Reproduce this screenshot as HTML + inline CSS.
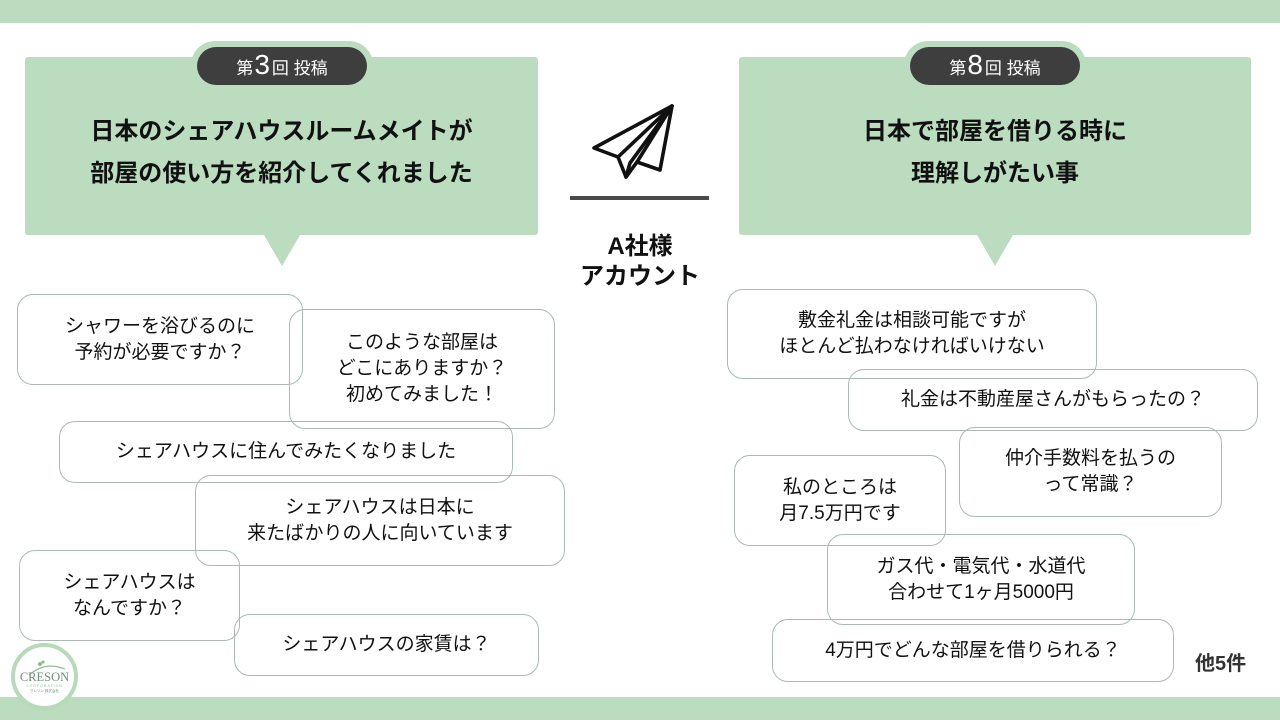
<!DOCTYPE html>
<html><head><meta charset="utf-8">
<style>
*{margin:0;padding:0;box-sizing:border-box}
body{width:1280px;height:720px;position:relative;background:#fff;overflow:hidden;font-family:"Liberation Sans","Noto Sans CJK JP",sans-serif;color:#111}
.band{position:absolute;left:0;width:1280px;background:#bbdcbf}
.gbox{position:absolute;background:#bbdcbf;border-radius:3px}
.tab{position:absolute;background:#bbdcbf;border-radius:24px 24px 0 0}
.pill{position:absolute;background:#3e3e3e;border-radius:19px;color:#fff;display:flex;align-items:center;justify-content:center;font-size:17px;white-space:nowrap}
.pill .n{font-size:28px;line-height:1;margin:0 2px 2px 1px}
.title{position:absolute;text-align:center;font-weight:bold;font-size:24px;line-height:42px;white-space:nowrap;color:#111}
.tri{position:absolute;width:0;height:0;border-left:18px solid transparent;border-right:18px solid transparent;border-top:31px solid #bbdcbf}
.b{position:absolute;border:1px solid #a9bab4;border-radius:16px;display:flex;align-items:center;justify-content:center;text-align:center;font-size:19px;line-height:26px;white-space:nowrap;color:#111}
</style></head><body>
<div class="band" style="top:0;height:23px"></div>
<div class="band" style="top:697px;height:23px"></div>

<!-- left header -->
<div class="tab" style="left:191px;top:41px;width:182px;height:30px"></div>
<div class="gbox" style="left:25px;top:57px;width:513px;height:178px"></div>
<div class="pill" style="left:197px;top:47px;width:170px;height:38px">第<span class="n">3</span>回 投稿</div>
<div class="title" style="left:25px;top:111px;width:513px">日本のシェアハウスルームメイトが<br>部屋の使い方を紹介してくれました</div>
<div class="tri" style="left:264px;top:235px"></div>

<!-- right header -->
<div class="tab" style="left:904px;top:41px;width:182px;height:30px"></div>
<div class="gbox" style="left:739px;top:57px;width:512px;height:178px"></div>
<div class="pill" style="left:910px;top:47px;width:170px;height:38px">第<span class="n">8</span>回 投稿</div>
<div class="title" style="left:739px;top:111px;width:512px">日本で部屋を借りる時に<br>理解しがたい事</div>
<div class="tri" style="left:977px;top:235px"></div>

<!-- center -->
<svg style="position:absolute;left:0;top:0" width="1280" height="720">
<g fill="none" stroke="#111" stroke-width="3.6" stroke-linejoin="round" stroke-linecap="round">
<path d="M672 106 L594 148 L618 157 L626 177 L637 162 L660 170 Z"/>
<path d="M672 106 L618 157"/>
<path d="M672 106 L630 163 L626 177"/>
<path d="M672 106 L637 162"/>
</g>
<rect x="570" y="196" width="139" height="4" fill="#4a4a4a"/>
</svg>
<div class="title" style="left:540px;top:232px;width:200px;line-height:30px">A社様<br>アカウント</div>

<!-- left bubbles -->
<div class="b" style="left:17px;top:294px;width:286px;height:91px">シャワーを浴びるのに<br>予約が必要ですか？</div>
<div class="b" style="left:289px;top:309px;width:266px;height:120px">このような部屋は<br>どこにありますか？<br>初めてみました！</div>
<div class="b" style="left:59px;top:421px;width:454px;height:62px">シェアハウスに住んでみたくなりました</div>
<div class="b" style="left:195px;top:475px;width:370px;height:91px">シェアハウスは日本に<br>来たばかりの人に向いています</div>
<div class="b" style="left:19px;top:550px;width:221px;height:91px">シェアハウスは<br>なんですか？</div>
<div class="b" style="left:234px;top:614px;width:305px;height:62px">シェアハウスの家賃は？</div>

<!-- right bubbles -->
<div class="b" style="left:727px;top:289px;width:370px;height:90px">敷金礼金は相談可能ですが<br>ほとんど払わなければいけない</div>
<div class="b" style="left:848px;top:369px;width:410px;height:62px">礼金は不動産屋さんがもらったの？</div>
<div class="b" style="left:959px;top:427px;width:263px;height:90px">仲介手数料を払うの<br>って常識？</div>
<div class="b" style="left:734px;top:455px;width:212px;height:91px">私のところは<br>月7.5万円です</div>
<div class="b" style="left:827px;top:534px;width:308px;height:91px">ガス代・電気代・水道代<br>合わせて1ヶ月5000円</div>
<div class="b" style="left:772px;top:619px;width:402px;height:63px">4万円でどんな部屋を借りられる？</div>

<div style="position:absolute;left:1195px;top:651px;font-size:20px;font-weight:bold;color:#333;line-height:26px">他5件</div>

<!-- logo -->
<div style="position:absolute;left:11px;top:643px;width:67px;height:67px;border-radius:50%;background:#fff;border:4px solid #b7dabb"></div>
<svg style="position:absolute;left:11px;top:643px" width="67" height="67">
<path d="M18 32 Q34 18 54 26" fill="none" stroke="#8cbf8f" stroke-width="1.2"/>
<circle cx="29" cy="21" r="2" fill="#8cbf8f"/><circle cx="32" cy="19" r="1.6" fill="#8cbf8f"/>
<text x="33.5" y="38" text-anchor="middle" font-family="Liberation Serif,serif" font-size="12.5" fill="#6f8f78">CRESON</text>
<text x="33.5" y="44" text-anchor="middle" font-family="Liberation Sans,sans-serif" font-size="3.5" fill="#8cbf8f" letter-spacing="1">CORPORATION</text>
<text x="33.5" y="49" text-anchor="middle" font-family="Liberation Sans,'Noto Sans CJK JP',sans-serif" font-size="3.5" fill="#6f8f78">クレソン 株式会社</text>
</svg>
</body></html>
